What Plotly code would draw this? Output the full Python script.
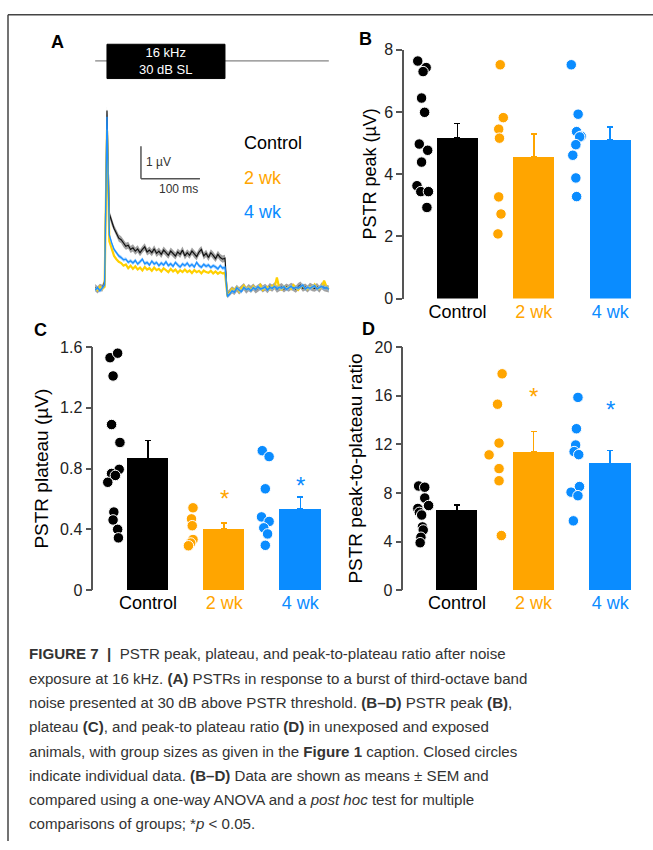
import plotly.graph_objects as go

W, H = 653, 850

# ---------------- data ----------------
groups = ["Control", "2 wk", "4 wk"]
group_colors = ["#000000", "#FFA500", "#0A8CFF"]

# Panel A: PSTR traces (µV), sampled every 4 ms starting at -20 ms
trace_step_ms = 4
trace_start_ms = -20
trace_control = [0.02, -0.05, 0.03, 0.0, 0.2,
                 5.5, 2.3, 2.05, 1.85, 1.7, 1.55, 1.5, 1.38, 1.3, 1.33,
                 1.2, 1.25, 1.15, 1.22, 1.1, 1.2, 1.28, 1.12, 1.18, 1.1,
                 1.22, 1.08, 1.15, 1.05, 1.18, 1.1, 1.02, 1.15, 1.08, 1.0,
                 1.12, 1.05, 1.18, 1.0, 1.1, 1.02, 1.15, 1.05, 0.98, 1.12,
                 1.2, 1.0, 1.08, 0.95, 1.1, 1.02, 0.92, 1.05, 0.95, 0.9,
                 0.93, -0.2,
                 -0.12, -0.05, -0.1, 0.0, -0.08, -0.02, 0.05, -0.06, 0.02, -0.03,
                 0.04, -0.05, 0.0, 0.06, -0.02, 0.03, -0.04, 0.05, 0.0, 0.08,
                 -0.03, 0.02, 0.05, -0.02, 0.04, 0.0, 0.06, 0.02, -0.03, 0.05,
                 0.1, 0.0, 0.04, -0.02, 0.06, 0.02, 0.0, 0.05, -0.03, 0.08,
                 0.02, 0.0, -0.02]
trace_2wk = [0.0, -0.06, 0.05, -0.02, 0.05,
             4.9, 1.45, 1.2, 1.0, 0.9, 0.82, 0.78, 0.7, 0.74, 0.62,
             0.7, 0.6, 0.68, 0.58, 0.64, 0.55, 0.66, 0.58, 0.62, 0.54,
             0.64, 0.56, 0.6, 0.52, 0.62, 0.55, 0.5, 0.6, 0.52, 0.58,
             0.48, 0.56, 0.5, 0.58, 0.5, 0.55, 0.47, 0.56, 0.5, 0.54,
             0.46, 0.55, 0.5, 0.48, 0.54, 0.46, 0.52, 0.45, 0.5, 0.46,
             0.48, -0.2,
             -0.15, -0.02, -0.08, 0.05, -0.1, 0.0, 0.08, -0.04, 0.03, -0.06,
             0.06, -0.02, 0.02, 0.1, -0.05, 0.0, 0.04, -0.03, 0.08, 0.02,
             0.33, 0.0, -0.04, 0.06, 0.0, 0.03, -0.02, 0.1, 0.02, -0.05,
             0.04, 0.08, 0.0, -0.03, 0.05, 0.02, 0.12, 0.0, -0.02, 0.05,
             0.24, 0.05, -0.02]
trace_4wk = [-0.05, 0.02, -0.08, 0.0, 0.1,
             5.3, 1.65, 1.4, 1.2, 1.1, 1.0, 0.95, 0.88, 0.9, 0.8,
             0.85, 0.78, 0.86, 0.75, 0.82, 0.9, 0.76, 0.8, 0.72, 0.84,
             0.75, 0.8, 0.7, 0.78, 0.72, 0.82, 0.7, 0.76, 0.68, 0.8,
             0.72, 0.66, 0.75, 0.7, 0.78, 0.68, 0.74, 0.66, 0.8, 0.7,
             0.65, 0.74, 0.68, 0.72, 0.64, 0.7, 0.66, 0.6, 0.7, 0.62,
             0.65, -0.25,
             -0.18, -0.08, -0.12, 0.02, -0.06, -0.1, 0.03, -0.04, 0.0, -0.08,
             0.02, -0.03, 0.05, -0.02, 0.0, 0.04, -0.05, 0.02, 0.0, 0.06,
             -0.02, 0.03, 0.0, 0.05, -0.03, 0.02, 0.06, -0.01, 0.03, 0.0,
             0.05, 0.1, -0.02, 0.03, 0.0, 0.04, 0.08, -0.02, 0.02, 0.06,
             0.0, 0.03, -0.03]
sem_control_trace = 0.11
sem_4wk_trace = 0.06
stim_on_ms, stim_off_ms = 0, 200
stim_label = "16 kHz<br>30 dB SL"
scalebar_uV = 1
scalebar_ms = 100

# Panel B: PSTR peak (µV)
peak_mean = [5.16, 4.55, 5.10]
peak_sem = [0.47, 0.75, 0.41]
peak_ctrl = [7.64, 7.43, 7.3, 6.45, 5.99, 4.97, 4.77, 4.39, 3.63, 3.44, 3.44, 2.93]
peak_ctrl_dx = [-0.52, -0.41, -0.45, -0.47, -0.43, -0.50, -0.39, -0.47, -0.53, -0.48, -0.38, -0.40]
peak_2wk = [7.52, 5.82, 5.45, 5.16, 3.27, 2.72, 2.08]
peak_2wk_dx = [-0.44, -0.40, -0.46, -0.45, -0.46, -0.43, -0.47]
peak_4wk = [7.52, 5.93, 5.37, 5.22, 5.2, 4.95, 4.61, 3.88, 3.28]
peak_4wk_dx = [-0.51, -0.42, -0.44, -0.38, -0.40, -0.45, -0.49, -0.45, -0.44]

# Panel C: PSTR plateau (µV)
plat_mean = [0.867, 0.405, 0.535]
plat_sem = [0.118, 0.038, 0.078]
plat_ctrl = [1.53, 1.56, 1.41, 1.09, 0.972, 0.795, 0.768, 0.755, 0.71, 0.514, 0.462, 0.40, 0.344]
plat_ctrl_dx = [-0.50, -0.40, -0.46, -0.48, -0.37, -0.38, -0.48, -0.43, -0.53, -0.45, -0.46, -0.40, -0.39]
plat_2wk = [0.542, 0.469, 0.424, 0.333, 0.31, 0.292]
plat_2wk_dx = [-0.41, -0.43, -0.42, -0.41, -0.44, -0.47]
plat_4wk = [0.918, 0.879, 0.667, 0.482, 0.452, 0.41, 0.37, 0.295]
plat_4wk_dx = [-0.50, -0.41, -0.46, -0.51, -0.41, -0.48, -0.43, -0.46]
plat_star_y = [None, 0.60, 0.69]

# Panel D: peak-to-plateau ratio
ratio_mean = [6.56, 11.4, 10.43]
ratio_sem = [0.46, 1.64, 1.07]
ratio_ctrl = [8.57, 8.47, 7.58, 6.96, 6.72, 6.4, 6.18, 5.2, 4.95, 4.35, 3.9]
ratio_ctrl_dx = [-0.50, -0.42, -0.42, -0.37, -0.51, -0.49, -0.46, -0.45, -0.44, -0.47, -0.48]
ratio_2wk = [17.8, 15.3, 12.1, 11.13, 10.0, 9.0, 4.49]
ratio_2wk_dx = [-0.41, -0.47, -0.45, -0.58, -0.45, -0.45, -0.42]
ratio_4wk = [15.86, 13.28, 11.94, 11.4, 11.15, 8.52, 8.06, 7.77, 5.7]
ratio_4wk_dx = [-0.42, -0.44, -0.45, -0.47, -0.41, -0.40, -0.51, -0.42, -0.48]
ratio_star_y = [None, 15.9, 14.9]

peak_ticks = [0, 2, 4, 6, 8]
plat_ticks = [0, 0.4, 0.8, 1.2, 1.6]
plat_ticktext = ["0", "0.4", "0.8", "1.2", "1.6"]
ratio_ticks = [0, 4, 8, 12, 16, 20]

caption_lines = [
    "<b>FIGURE 7</b>  <b>|</b>  PSTR peak, plateau, and peak-to-plateau ratio after noise",
    "exposure at 16 kHz. <b>(A)</b> PSTRs in response to a burst of third-octave band",
    "noise presented at 30 dB above PSTR threshold. <b>(B–D)</b> PSTR peak <b>(B)</b>,",
    "plateau <b>(C)</b>, and peak-to plateau ratio <b>(D)</b> in unexposed and exposed",
    "animals, with group sizes as given in the <b>Figure 1</b> caption. Closed circles",
    "indicate individual data. <b>(B–D)</b> Data are shown as means ± SEM and",
    "compared using a one-way ANOVA and a <i>post hoc</i> test for multiple",
    "comparisons of groups; *<i>p</i> &lt; 0.05.",
]

# ---------------- helpers ----------------
def px(x):
    return x / W

def py(y):
    return 1 - y / H

FONT = "Liberation Sans, Arial, sans-serif"
AX = "#555555"

fig = go.Figure()

# ---------------- Panel A ----------------
def times(series):
    return [trace_start_ms + trace_step_ms * i for i in range(len(series))]

tc = times(trace_control)
t4 = times(trace_4wk)
t2 = times(trace_2wk)
fig.add_trace(go.Scatter(x=tc + tc[::-1],
                         y=[v + sem_control_trace for v in trace_control] +
                           [v - sem_control_trace for v in trace_control][::-1],
                         fill="toself", fillcolor="rgba(130,130,130,0.75)",
                         line=dict(width=0), hoverinfo="skip", showlegend=False,
                         xaxis="x", yaxis="y"))
fig.add_trace(go.Scatter(x=tc, y=trace_control, mode="lines",
                         line=dict(color="#111111", width=1.2), showlegend=False,
                         xaxis="x", yaxis="y"))
fig.add_trace(go.Scatter(x=t2, y=trace_2wk, mode="lines",
                         line=dict(color="#FFD000", width=2.2), showlegend=False,
                         xaxis="x", yaxis="y"))
fig.add_trace(go.Scatter(x=t4 + t4[::-1],
                         y=[v + sem_4wk_trace for v in trace_4wk] +
                           [v - sem_4wk_trace for v in trace_4wk][::-1],
                         fill="toself", fillcolor="rgba(120,190,255,0.6)",
                         line=dict(width=0), hoverinfo="skip", showlegend=False,
                         xaxis="x", yaxis="y"))
fig.add_trace(go.Scatter(x=t4, y=trace_4wk, mode="lines",
                         line=dict(color="#1E90FF", width=1.4), showlegend=False,
                         xaxis="x", yaxis="y"))

# ---------------- Panels B-D ----------------
panels = [
    ("x2", "y2", peak_mean, peak_sem,
     [(peak_ctrl, peak_ctrl_dx), (peak_2wk, peak_2wk_dx), (peak_4wk, peak_4wk_dx)]),
    ("x3", "y3", plat_mean, plat_sem,
     [(plat_ctrl, plat_ctrl_dx), (plat_2wk, plat_2wk_dx), (plat_4wk, plat_4wk_dx)]),
    ("x4", "y4", ratio_mean, ratio_sem,
     [(ratio_ctrl, ratio_ctrl_dx), (ratio_2wk, ratio_2wk_dx), (ratio_4wk, ratio_4wk_dx)]),
]
for xa, ya, means, sems, dots in panels:
    for gi in range(3):
        fig.add_trace(go.Bar(x=[gi + 1], y=[means[gi]], width=0.54,
                             marker=dict(color=group_colors[gi], line=dict(width=0)),
                             error_y=dict(type="data", symmetric=False,
                                          array=[sems[gi]], arrayminus=[0],
                                          color=group_colors[gi], thickness=1.6, width=3),
                             showlegend=False, xaxis=xa, yaxis=ya))
        vals, dx = dots[gi]
        fig.add_trace(go.Scatter(x=[gi + 1 + d for d in dx], y=vals, mode="markers",
                                 marker=dict(color=group_colors[gi], size=10.5,
                                             line=dict(color="white", width=1)),
                                 showlegend=False, cliponaxis=False,
                                 xaxis=xa, yaxis=ya))

ticktext_groups = [f"<span style='color:{c}'>{g}</span>" for g, c in zip(groups, group_colors)]

common_y = dict(showline=True, linecolor=AX, linewidth=1.5, ticks="outside",
                ticklen=6, tickwidth=1.5, tickcolor=AX, showgrid=False, zeroline=False,
                tickfont=dict(family=FONT, size=16, color="#222222"))
common_x = dict(showline=False, ticks="", showgrid=False, zeroline=False,
                tickvals=[1, 2, 3], ticktext=ticktext_groups,
                tickfont=dict(family=FONT, size=18, color="#000000"))

fig.update_layout(
    width=W, height=H, margin=dict(l=0, r=0, t=0, b=0),
    paper_bgcolor="white", plot_bgcolor="rgba(0,0,0,0)",
    bargap=0, showlegend=False,
    xaxis=dict(domain=[px(95), px(330)], range=[-20.3, 378], visible=False),
    yaxis=dict(domain=[py(300), py(80)], range=[-0.424, 6.242], visible=False),
    xaxis2=dict(domain=[px(404), px(640)], range=[0.30, 3.39], anchor="y2", **common_x),
    yaxis2=dict(domain=[py(296.5), py(42.7)], range=[0, 8], anchor="x2",
                tickvals=peak_ticks, **common_y),
    xaxis3=dict(domain=[px(93.3), px(330)], range=[0.28, 3.39], anchor="y3", **common_x),
    yaxis3=dict(domain=[py(594), py(346)], range=[0, 1.6], anchor="x3",
                tickvals=plat_ticks, ticktext=plat_ticktext, **common_y),
    xaxis4=dict(domain=[px(403.3), px(640)], range=[0.30, 3.39], anchor="y4", **common_x),
    yaxis4=dict(domain=[py(594), py(346)], range=[0, 20], anchor="x4",
                tickvals=ratio_ticks, **common_y),
)

shapes = []
ann = []

def A(**kw):
    d = dict(showarrow=False, xanchor="center", yanchor="middle")
    d.update(kw)
    ann.append(d)

# frame
shapes.append(dict(type="line", xref="paper", yref="paper", x0=px(8), x1=1, y0=py(7), y1=py(7),
                   line=dict(color="#444444", width=1.5)))
shapes.append(dict(type="line", xref="paper", yref="paper", x0=px(8), x1=px(8), y0=py(7), y1=0,
                   line=dict(color="#444444", width=1.5)))
# stimulus marker
shapes.append(dict(type="line", xref="x", yref="paper", x0=tc[0], x1=tc[-1],
                   y0=py(54), y1=py(54), line=dict(color="#666666", width=1)))
shapes.append(dict(type="rect", xref="x", yref="paper", x0=stim_on_ms, x1=stim_off_ms,
                   y0=py(72), y1=py(37), fillcolor="black", line=dict(color="black", width=1)))
A(x=(stim_on_ms + stim_off_ms) / 2, y=py(54.5), xref="x", yref="paper",
  text=stim_label, font=dict(family=FONT, size=13, color="white"), align="center")
# scale bar
sb_t0, sb_v0 = 57.6, 3.39
shapes.append(dict(type="line", xref="x", yref="y", x0=sb_t0, x1=sb_t0,
                   y0=sb_v0, y1=sb_v0 + scalebar_uV, line=dict(color="#555555", width=1.5)))
shapes.append(dict(type="line", xref="x", yref="y", x0=sb_t0, x1=sb_t0 + scalebar_ms,
                   y0=sb_v0, y1=sb_v0, line=dict(color="#555555", width=1.5)))
A(x=sb_t0 + 5, y=sb_v0 + scalebar_uV / 2, xref="x", yref="y", text="1 µV",
  xanchor="left", font=dict(family=FONT, size=12, color="#333333"))
A(x=sb_t0 + scalebar_ms, y=sb_v0, xref="x", yref="y", text="100 ms",
  xanchor="right", yanchor="top", yshift=-1, font=dict(family=FONT, size=12, color="#333333"))
# legend labels
for i, (g, c) in enumerate(zip(groups, group_colors)):
    A(x=px(242), y=py(138 + 35 * i), xref="paper", yref="paper", text=g,
      xanchor="left", font=dict(family=FONT, size=18, color=c))
# panel letters
for lab, x, y in [("A", 57, 35), ("B", 365, 32), ("C", 40, 329), ("D", 368, 328)]:
    A(x=px(x), y=py(y), xref="paper", yref="paper", text=f"<b>{lab}</b>",
      font=dict(family=FONT, size=18, color="black"))
# y titles
for text, x, y, fs in [("PSTR peak (µV)", 370, 170, 18), ("PSTR plateau (µV)", 42, 470, 19),
                       ("PSTR peak-to-plateau ratio", 356, 470, 19)]:
    A(x=px(x), y=py(y), xref="paper", yref="paper", text=text, textangle=-90,
      font=dict(family=FONT, size=fs, color="black"))
# significance stars
for gi in range(3):
    if plat_star_y[gi] is not None:
        A(x=gi + 1, y=plat_star_y[gi], xref="x3", yref="y3", text="*",
          font=dict(family=FONT, size=24, color=group_colors[gi]))
    if ratio_star_y[gi] is not None:
        A(x=gi + 1, y=ratio_star_y[gi], xref="x4", yref="y4", text="*",
          font=dict(family=FONT, size=24, color=group_colors[gi]))
# caption
for i, line in enumerate(caption_lines):
    A(x=px(27), y=py(659 + 24.8 * i), xref="paper", yref="paper", text=line,
      xanchor="left", align="left",
      font=dict(family=FONT, size=15.1, color="#333333"))

fig.update_layout(shapes=shapes, annotations=ann)
fig.write_html("out.html", config={"displayModeBar": False},
               post_script="document.body.style.margin='0';")
